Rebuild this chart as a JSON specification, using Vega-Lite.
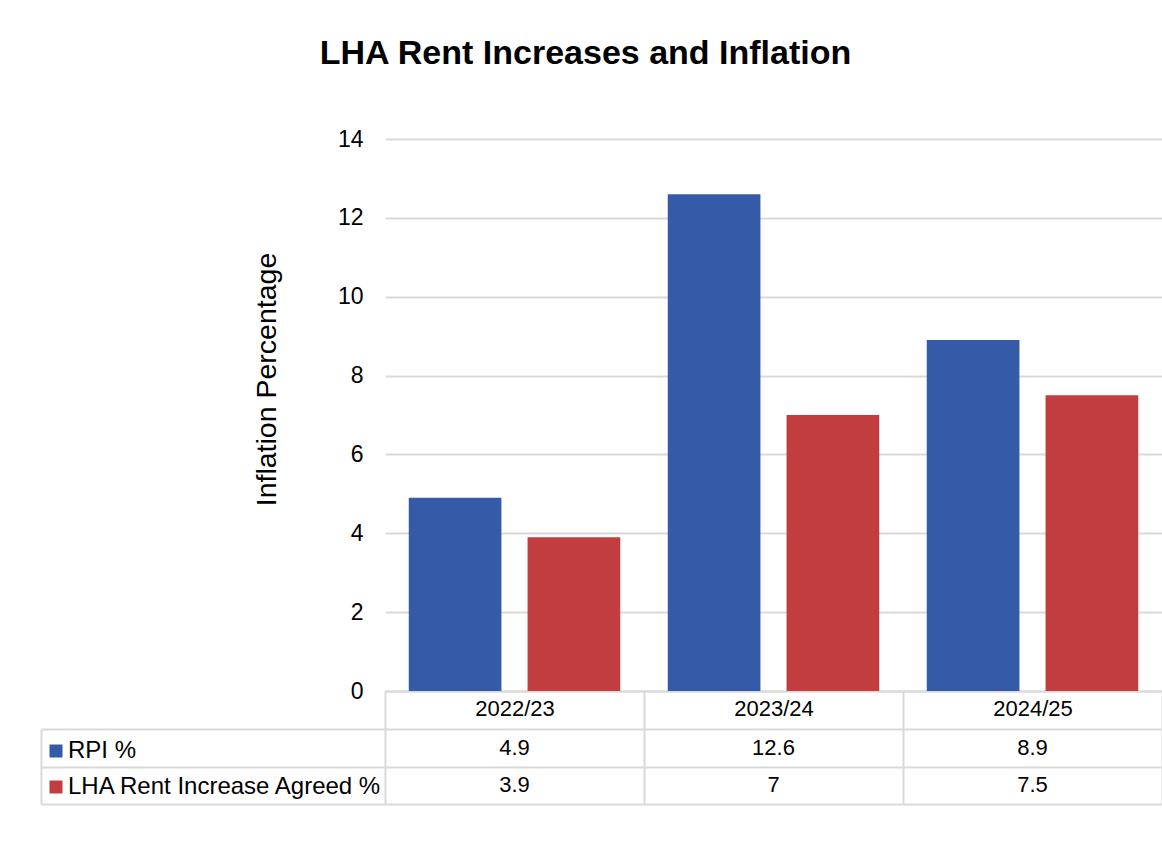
{
  "$schema": "https://vega.github.io/schema/vega-lite/v6.json",
  "background": "white",
  "padding": {"left": 36, "top": 37, "right": 0, "bottom": 40},
  "title": {
    "text": "LHA Rent Increases and Inflation",
    "font": "Liberation Sans",
    "fontSize": 34,
    "fontWeight": "bold",
    "color": "#000000",
    "anchor": "middle",
    "frame": "group",
    "dx": -188,
    "offset": 57
  },
  "datasets": {
    "rows": [
      {"year": "2022/23", "series": "RPI %", "value": 4.9},
      {"year": "2022/23", "series": "LHA Rent Increase Agreed %", "value": 3.9},
      {"year": "2023/24", "series": "RPI %", "value": 12.6},
      {"year": "2023/24", "series": "LHA Rent Increase Agreed %", "value": 7},
      {"year": "2024/25", "series": "RPI %", "value": 8.9},
      {"year": "2024/25", "series": "LHA Rent Increase Agreed %", "value": 7.5}
    ]
  },
  "spacing": 38,
  "bounds": "flush",
  "resolve": {"scale": {"x": "independent", "y": "independent"}},
  "vconcat": [
    {
      "width": 777,
      "height": 552,
      "data": {"name": "rows"},
      "mark": {"type": "bar"},
      "encoding": {
        "x": {
          "field": "year",
          "type": "nominal",
          "sort": ["2022/23", "2023/24", "2024/25"],
          "scale": {"paddingInner": 0, "paddingOuter": 0},
          "axis": {
            "title": null,
            "labelAngle": 0,
            "labelFont": "Liberation Sans",
            "labelFontSize": 22,
            "labelColor": "#000000",
            "labelBaseline": "middle",
            "labelPadding": -21,
            "ticks": true,
            "tickSize": 38,
            "tickBand": "extent",
            "tickColor": "#d9d9d9",
            "tickWidth": 2,
            "domainColor": "#d9d9d9",
            "domainWidth": 2,
            "grid": false
          }
        },
        "xOffset": {
          "field": "series",
          "type": "nominal",
          "sort": ["RPI %", "LHA Rent Increase Agreed %"],
          "scale": {"paddingInner": 0.22, "paddingOuter": 0.2}
        },
        "y": {
          "field": "value",
          "type": "quantitative",
          "scale": {"domain": [0, 14], "nice": false},
          "axis": {
            "title": "Inflation Percentage",
            "titleFont": "Liberation Sans",
            "titleFontSize": 28.5,
            "titleFontWeight": "normal",
            "titleColor": "#000000",
            "titleX": -104,
            "titleY": 240,
            "titleBaseline": "bottom",
            "values": [0, 2, 4, 6, 8, 10, 12, 14],
            "ticks": false,
            "domain": false,
            "labelFont": "Liberation Sans",
            "labelFontSize": 23,
            "labelColor": "#000000",
            "labelPadding": 22,
            "grid": true,
            "gridColor": "#d9d9d9",
            "gridWidth": 2
          }
        },
        "color": {
          "field": "series",
          "type": "nominal",
          "scale": {
            "domain": ["RPI %", "LHA Rent Increase Agreed %"],
            "range": ["#345AA8", "#C23D3F"]
          },
          "legend": {
            "orient": "none",
            "legendX": -349,
            "legendY": 592,
            "title": null,
            "direction": "vertical",
            "symbolType": "square",
            "symbolSize": 169,
            "symbolStrokeWidth": 0,
            "symbolOpacity": 1,
            "labelFont": "Liberation Sans",
            "labelFontSize": 24,
            "labelColor": "#000000",
            "labelLimit": 500,
            "labelOffset": 0,
            "padding": 8,
            "rowPadding": 12
          }
        }
      }
    },
    {
      "width": 777,
      "height": 75,
      "data": {"name": "rows"},
      "mark": {"type": "text", "font": "Liberation Sans", "fontSize": 22, "color": "#000000"},
      "encoding": {
        "x": {
          "field": "year",
          "type": "nominal",
          "sort": ["2022/23", "2023/24", "2024/25"],
          "scale": {"paddingInner": 0, "paddingOuter": 0},
          "axis": {
            "title": null,
            "labels": false,
            "ticks": false,
            "domain": false,
            "grid": true,
            "tickBand": "extent",
            "gridColor": "#d9d9d9",
            "gridWidth": 2
          }
        },
        "y": {
          "field": "series",
          "type": "nominal",
          "sort": ["RPI %", "LHA Rent Increase Agreed %"],
          "scale": {"paddingInner": 0, "paddingOuter": 0},
          "axis": {
            "title": null,
            "labels": false,
            "ticks": true,
            "offset": 344,
            "tickSize": -1121,
            "tickBand": "extent",
            "tickColor": "#d9d9d9",
            "tickWidth": 2,
            "domain": true,
            "domainColor": "#d9d9d9",
            "domainWidth": 2,
            "grid": false
          }
        },
        "text": {"field": "value", "type": "quantitative"}
      }
    }
  ],
  "config": {
    "view": {"stroke": null},
    "font": "Liberation Sans"
  }
}
